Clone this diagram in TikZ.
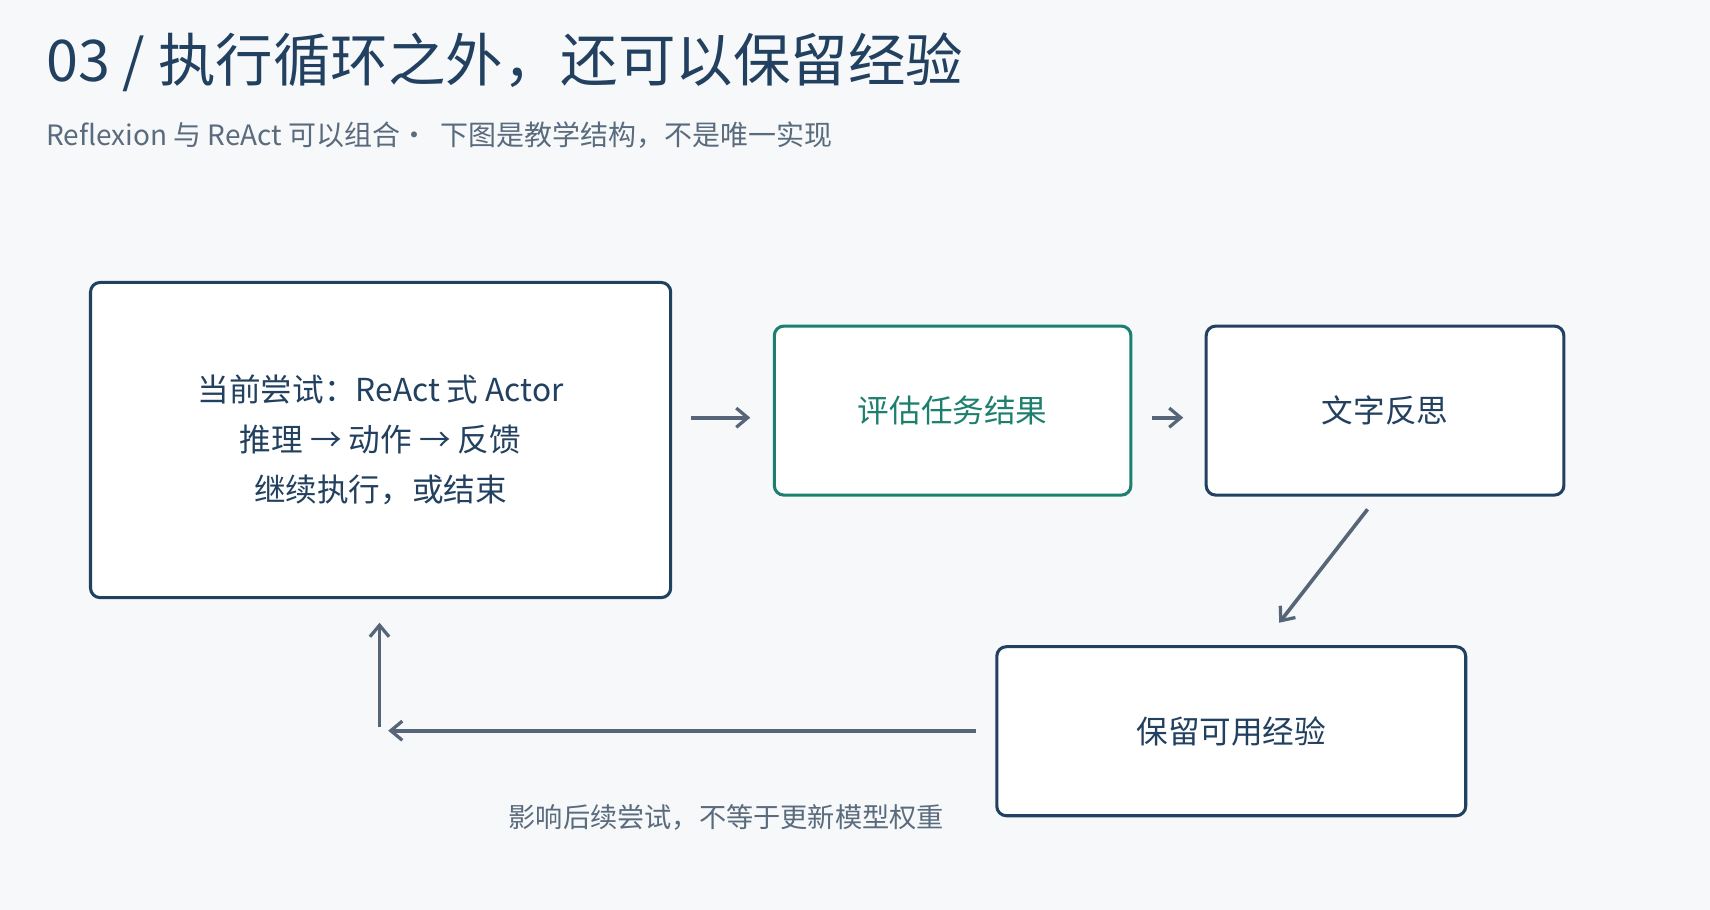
\documentclass[tikz,border=0pt]{standalone}
\usepackage{fontspec}
\setmainfont{Noto Sans CJK SC}
\usetikzlibrary{arrows.meta}
\definecolor{bg}{HTML}{F6F8FA}
\definecolor{navy}{HTML}{22405F}
\definecolor{grn}{HTML}{1E7F6E}
\definecolor{arr}{HTML}{566678}
\definecolor{sub}{HTML}{5A6B7D}
\tikzset{
 box/.style={draw=navy,line width=1.6pt,rounded corners=5pt,fill=white,text=navy,font=\fontsize{16.5}{26}\selectfont,align=center},
 ar/.style={draw=arr,line width=1.9pt,-{Straight Barb[length=6pt,width=10pt,line width=1.7pt]}},
}
\begin{document}
\begin{tikzpicture}[x=0.02cm,y=-0.02cm]
\useasboundingbox[fill=bg] (0,0) rectangle (1568,834);
\node[anchor=base west,text=navy,font=\fontsize{30}{34}\selectfont,inner sep=0] (t) at (42,75) {03 / 执行循环之外，还可以保留经验};
\node[anchor=base west,text=sub,font=\fontsize{14.6}{16}\selectfont,inner sep=0] (s) at (42,133) {Reflexion 与 ReAct 可以组合·\ \ 下图是教学结构，不是唯一实现};
\node[box,minimum width=532*0.02cm,minimum height=289*0.02cm] (a) at (349,403.5) {当前尝试：ReAct 式 Actor\\推理 → 动作 → 反馈\\继续执行，或结束};
\node[box,draw=grn,text=grn,minimum width=327*0.02cm,minimum height=155*0.02cm] (b) at (873.5,376.5) {评估任务结果};
\node[box,minimum width=328*0.02cm,minimum height=155*0.02cm] (c) at (1270,376.5) {文字反思};
\node[box,minimum width=430*0.02cm,minimum height=155*0.02cm] (d) at (1129,670.5) {保留可用经验};
\coordinate (a1) at (634,383); \coordinate (a2) at (688,383);
\coordinate (b1) at (1056,383); \coordinate (b2) at (1085,383);
\coordinate (c1) at (1254,467); \coordinate (c2) at (1173,571);
\coordinate (d1) at (895,670); \coordinate (d2) at (356,670);
\coordinate (e1) at (348,667); \coordinate (e2) at (348,571);
\draw[ar] (a1) -- (a2);
\draw[ar] (b1) -- (b2);
\draw[ar] (c1) -- (c2);
\draw[ar] (d1) -- (d2);
\draw[ar] (e1) -- (e2);
\node[text=sub,font=\fontsize{14.2}{16}\selectfont] (l) at (666,750) {影响后续尝试，不等于更新模型权重};
\end{tikzpicture}
\end{document}
